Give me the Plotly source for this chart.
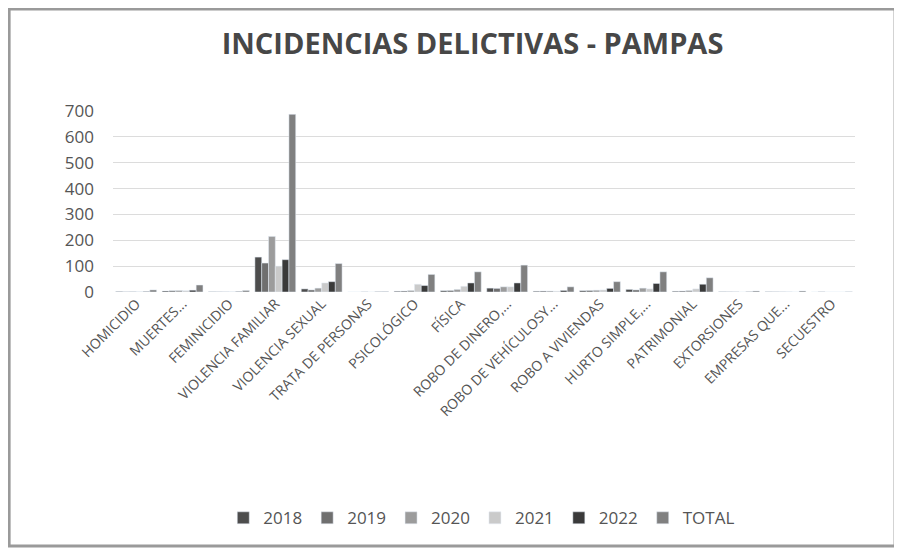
import plotly.graph_objects as go

categorias = ["HOMICIDIO", "MUERTES...", "FEMINICIDIO", "VIOLENCIA FAMILIAR",
              "VIOLENCIA SEXUAL", "TRATA DE PERSONAS", "PSICOLÓGICO", "FÍSICA",
              "ROBO DE DINERO,...", "ROBO DE VEHÍCULOSY...", "ROBO A VIVIENDAS",
              "HURTO SIMPLE,...", "PATRIMONIAL", "EXTORSIONES", "EMPRESAS QUE...",
              "SECUESTRO"]

v2018 = [2, 4, 1, 135, 12, 0, 3, 5, 15, 3, 5, 10, 3, 1, 1, 0]
v2019 = [1, 5, 1, 112, 8, 0, 4, 6, 14, 4, 6, 8, 4, 1, 1, 1]
v2020 = [2, 6, 1, 215, 15, 1, 6, 10, 20, 4, 7, 15, 6, 1, 1, 0]
v2021 = [1, 5, 1, 100, 35, 0, 30, 22, 20, 3, 8, 12, 12, 0, 1, 0]
v2022 = [2, 7, 2, 125, 40, 1, 25, 35, 35, 6, 14, 33, 30, 1, 0, 0]
total = [8, 27, 6, 687, 110, 2, 68, 78, 104, 20, 40, 78, 55, 4, 4, 1]

series = [("2018", v2018, "#4d4d4d"), ("2019", v2019, "#6f6f6f"),
          ("2020", v2020, "#9c9c9c"), ("2021", v2021, "#cacaca"),
          ("2022", v2022, "#3a3a3a"), ("TOTAL", total, "#808080")]

fig = go.Figure()
for name, vals, col in series:
    fig.add_trace(go.Bar(name=name, x=categorias, y=vals, marker_color=col))

fig.update_layout(
    width=902, height=551,
    paper_bgcolor="white", plot_bgcolor="white",
    font=dict(family="Open Sans, Lato, sans-serif", color="#555555"),
    title=dict(text="<b>INCIDENCIAS DELICTIVAS - PAMPAS</b>", x=0.515, xanchor="center",
               y=0.935, yanchor="middle", font=dict(size=29, color="#474747")),
    margin=dict(l=105, r=55, t=103, b=267),
    barmode="group", bargap=0.12, bargroupgap=0,
    legend=dict(orientation="h", x=0.497, xanchor="center", y=-1.25, yanchor="middle",
                font=dict(size=17, color="#555555"), traceorder="normal"),
    xaxis=dict(tickangle=-45, tickfont=dict(size=14, color="#555555"),
               showline=False, ticks="", automargin=False),
    yaxis=dict(range=[0, 700], dtick=100, gridcolor="#dcdcdc", zeroline=False,
               tickfont=dict(size=17, color="#555555"), ticks="",
               ticklabelstandoff=18, automargin=False),
)

# marco del grafico
fig.add_shape(type="rect", xref="paper", yref="paper", x0=-0.140, x1=1.054, y0=-1.403, y1=1.564,
              line=dict(color="#9a9a9a", width=3))

fig.write_html("out.html")
